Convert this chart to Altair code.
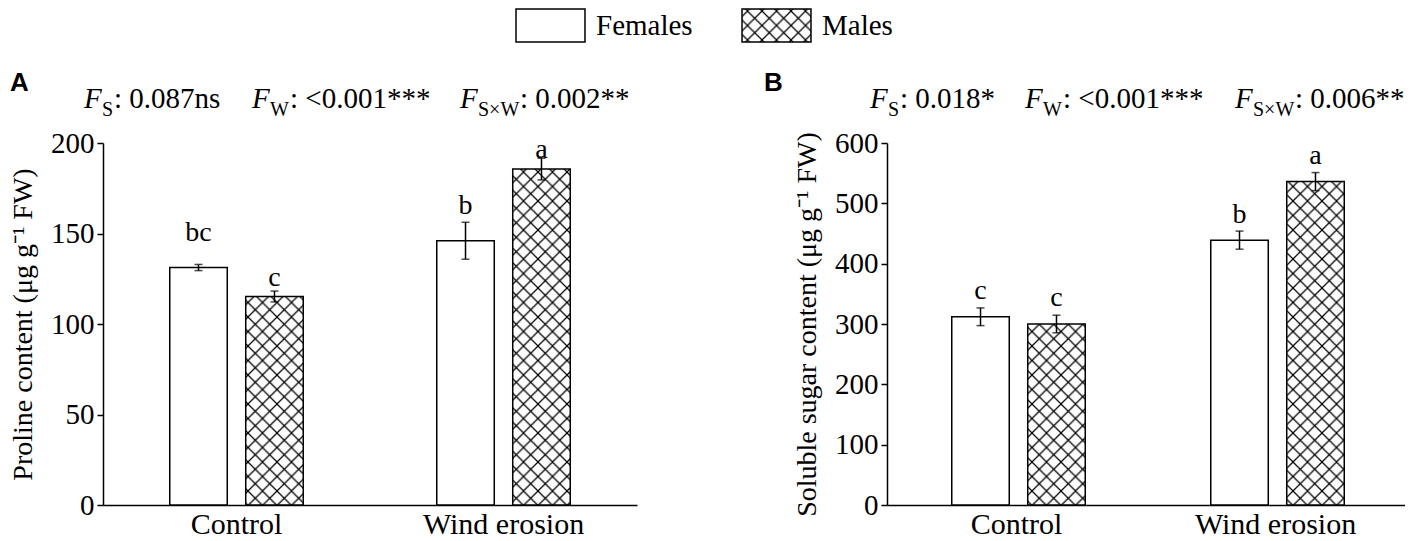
import re
import jinja2
import altair as alt
import pandas as pd
import altair.utils.html as _ah

# ---------------- data ----------------
conditions = ["Control", "Control", "Wind erosion", "Wind erosion"]
sexes = ["Females", "Males", "Females", "Males"]
condition_order = ["Control", "Wind erosion"]
sex_order = ["Females", "Males"]

proline_mean = [131.2, 115.2, 146.0, 185.6]
proline_err = [1.7, 3.0, 10.2, 6.0]
proline_letters = ["bc", "c", "b", "a"]
proline_letter_y = [146.0, 121.0, 161.0, 191.5]
proline_ticks = [0, 50, 100, 150, 200]

sugar_mean = [312.0, 300.0, 439.0, 536.0]
sugar_err = [14.7, 14.6, 15.0, 15.0]
sugar_letters = ["c", "c", "b", "a"]
sugar_letter_y = [341.0, 330.0, 468.0, 565.0]
sugar_ticks = [0, 100, 200, 300, 400, 500, 600]

SERIF = "Liberation Serif"
SANS = "Liberation Sans"

# ---------------- cross-hatch pattern made available to the SVG renderer ----------------
PATTERN_DEFS = (
    '<svg width="0" height="0" style="position:absolute;left:0;top:0" aria-hidden="true">'
    '<defs><pattern id="xhatch" patternUnits="userSpaceOnUse" width="14.5" height="14.5">'
    '<rect width="14.5" height="14.5" fill="white"/>'
    '<path d="M-1,-1L15.5,15.5M15.5,-1L-1,15.5" stroke="#000" stroke-width="1.25"/>'
    '</pattern></defs></svg>'
)
_patched = set()


def _patch(tpl):
    if id(tpl) in _patched:
        return
    _patched.add(id(tpl))
    orig = tpl.render

    def render(*a, _o=orig, **kw):
        html = _o(*a, **kw)
        m = re.search(r"<body[^>]*>", html)
        if m:
            return html[: m.end()] + PATTERN_DEFS + html[m.end():]
        return html.replace("</html>", PATTERN_DEFS + "</html>")

    tpl.render = render


for _name in dir(_ah):
    _obj = getattr(_ah, _name)
    if isinstance(_obj, jinja2.Template):
        _patch(_obj)
    elif isinstance(_obj, dict):
        for _v in _obj.values():
            if isinstance(_v, jinja2.Template):
                _patch(_v)


def make_df(mean, err, letters, letter_y):
    return pd.DataFrame({
        "Condition": conditions,
        "Sex": sexes,
        "mean": mean,
        "err": err,
        "letter": letters,
        "ly": letter_y,
    })


LEGEND = alt.Legend(
    title=None, orient="none", direction="horizontal",
    legendX=430, legendY=-135,
    symbolType="M-2.09,-1H2.09V1H-2.09Z", symbolSize=1089,
    symbolStrokeColor="black", symbolStrokeWidth=1.5,
    labelFont=SERIF, labelFontSize=29, labelColor="black",
    labelOffset=28, columnPadding=46, padding=0,
)


def text_piece(txt, x, y, size, style="normal", font=SERIF, weight="normal"):
    return alt.Chart(alt.Data(values=[{"k": 1}])).mark_text(
        text=txt, align="left", baseline="alphabetic", font=font,
        fontSize=size, fontStyle=style, fontWeight=weight, color="black",
    ).encode(x=alt.value(x), y=alt.value(y))


def panel(df, ytitle, ymax, ticks, width, panel_label, label_x, ann):
    x = alt.X(
        "Condition:N", sort=condition_order,
        scale=alt.Scale(paddingInner=0.5, paddingOuter=0.25),
        axis=alt.Axis(title=None, labelAngle=0, ticks=False, tickSize=0,
                      labelFont=SERIF, labelFontSize=30, labelColor="black",
                      labelPadding=4, domainColor="black", domainWidth=1.5),
    )
    xo = alt.XOffset("Sex:N", sort=sex_order,
                     scale=alt.Scale(paddingInner=0.243, paddingOuter=0))
    yax = alt.Axis(title=ytitle, values=ticks, grid=False, tickSize=6,
                   tickColor="black", tickWidth=1.5, domainColor="black",
                   domainWidth=1.5, labelFont=SERIF, labelFontSize=29,
                   labelColor="black", labelPadding=3, titleFont=SERIF,
                   titleFontSize=28, titleFontWeight="normal", titleColor="black",
                   titlePadding=13)
    ysc = alt.Scale(domain=[0, ymax], nice=False, zero=True)

    base = alt.Chart(df).transform_calculate(
        lo="datum.mean - datum.err", hi="datum.mean + datum.err"
    )
    bars = base.mark_bar(stroke="black", strokeWidth=1.5).encode(
        x=x, xOffset=xo,
        y=alt.Y("mean:Q", scale=ysc, axis=yax),
        fill=alt.Fill("Sex:N", sort=sex_order,
                      scale=alt.Scale(domain=sex_order, range=["white", "url(#xhatch)"]),
                      legend=LEGEND),
    )
    rule = base.mark_rule(color="black", strokeWidth=1.5).encode(
        x=x, xOffset=xo, y=alt.Y("lo:Q", scale=ysc, axis=yax), y2="hi:Q"
    )
    cap_hi = base.mark_tick(color="black", thickness=1.5, size=8, orient="horizontal").encode(
        x=x, xOffset=xo, y=alt.Y("hi:Q", scale=ysc, axis=yax)
    )
    cap_lo = base.mark_tick(color="black", thickness=1.5, size=8, orient="horizontal").encode(
        x=x, xOffset=xo, y=alt.Y("lo:Q", scale=ysc, axis=yax)
    )
    letters = base.mark_text(font=SERIF, fontSize=28, baseline="alphabetic",
                             align="center", color="black").encode(
        x=x, xOffset=xo, y=alt.Y("ly:Q", scale=ysc, axis=yax), text="letter:N"
    )
    pieces = [text_piece(panel_label, label_x, -52, 26, font=SANS, weight="bold")]
    for txt, px, kind in ann:
        if kind == "F":
            pieces.append(text_piece(txt, px, -35, 29, style="italic"))
        elif kind == "sub":
            pieces.append(text_piece(txt, px, -27, 20))
        else:
            pieces.append(text_piece(txt, px, -35, 29))
    return alt.layer(bars, rule, cap_hi, cap_lo, letters, *pieces).properties(
        width=width, height=362
    )


ann_a = [
    ("F", -19, "F"), ("S", -1, "sub"), (": 0.087ns", 11, "t"),
    ("F", 149, "F"), ("W", 167, "sub"), (": <0.001***", 187, "t"),
    ("F", 357, "F"), ("S×W", 375, "sub"), (": 0.002**", 417, "t"),
]
ann_b = [
    ("F", -17, "F"), ("S", 1, "sub"), (": 0.018*", 13, "t"),
    ("F", 138, "F"), ("W", 156, "sub"), (": <0.001***", 176, "t"),
    ("F", 348, "F"), ("S×W", 366, "sub"), (": 0.006**", 408, "t"),
]

panel_a = panel(make_df(proline_mean, proline_err, proline_letters, proline_letter_y),
                "Proline content (μg g⁻¹ FW)", 200, proline_ticks, 534, "A", -93, ann_a)
panel_b = panel(make_df(sugar_mean, sugar_err, sugar_letters, sugar_letter_y),
                "Soluble sugar content (μg g⁻¹ FW)", 600, sugar_ticks, 518, "B", -123, ann_b)

chart = alt.hconcat(panel_a, panel_b, spacing=250, bounds="flush").resolve_scale(
    fill="shared"
).properties(
    padding={"left": 1, "top": 0, "right": 0, "bottom": 0}
).configure(font=SERIF).configure_view(stroke=None).configure_axis(
    labelFont=SERIF, titleFont=SERIF
).configure_legend(labelFont=SERIF)

chart.save("out.html", embed_options={"renderer": "svg", "actions": False})
